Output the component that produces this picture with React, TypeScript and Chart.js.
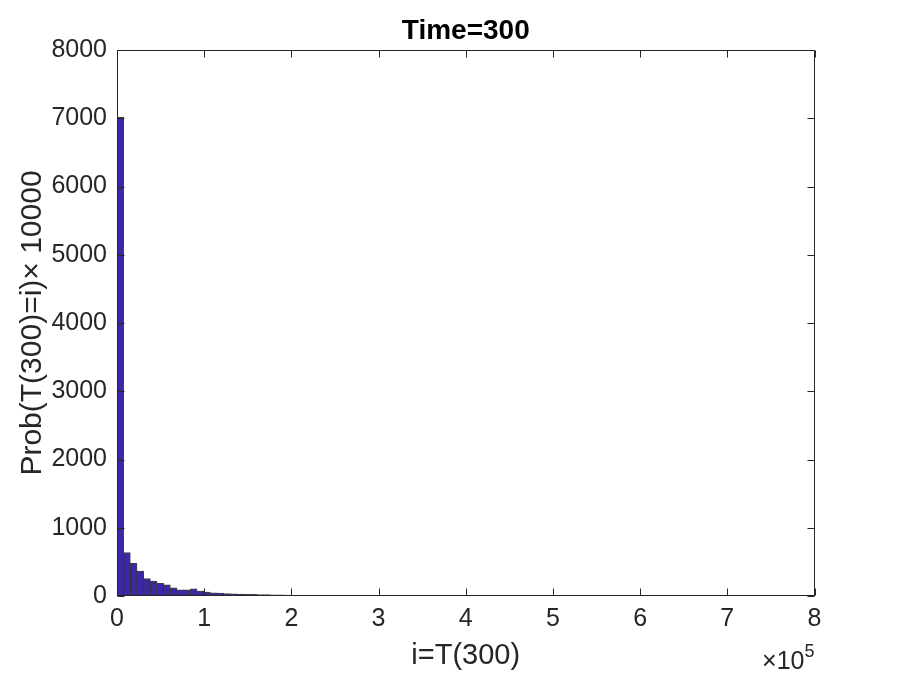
import React, { useEffect, useRef } from 'react';
import { Chart, registerables } from 'chart.js';

Chart.register(...registerables);

// ---- data ----
const BIN_WIDTH = 7650;
const binCounts = [
  7015, 635, 480, 366, 254, 220, 186, 162, 120, 90,
  92, 105, 72, 58, 45, 42, 34, 32, 28, 26,
  24, 22, 20, 18, 16, 13, 9, 7, 6, 5,
  8, 4, 5, 4, 5, 2, 2, 1, 1, 0,
  0, 1, 0, 0, 0, 0, 0, 1, 3, 0,
  0, 0, 0, 0, 0, 3,
];
const xTickValues = [0, 100000, 200000, 300000, 400000, 500000, 600000, 700000, 800000];
const yTickValues = [0, 1000, 2000, 3000, 4000, 5000, 6000, 7000, 8000];
const titleText = 'Time=300';
const xLabel = 'i=T(300)';
const yLabel = 'Prob(T(300)=i)\u00d7 10000';
const expBase = '\u00d710';
const expPower = '5';

const FONT = "'Liberation Sans', Arial, Helvetica, sans-serif";
const AXIS_COLOR = '#262626';
const BAR_COLOR = '#3E26A8';

const boxPlugin = {
  id: 'matlabBox',
  afterDatasetsDraw(chart: any) {
    const { ctx, chartArea, scales } = chart;
    const L = Math.round(chartArea.left) + 0.5;
    const R = Math.round(chartArea.right) - 0.5;
    const T = Math.round(chartArea.top) + 0.5;
    const B = Math.round(chartArea.bottom) - 0.5;
    const tl = 7;
    ctx.save();
    ctx.strokeStyle = AXIS_COLOR;
    ctx.lineWidth = 1;
    ctx.strokeRect(L, T, R - L, B - T);
    ctx.beginPath();
    scales.x.ticks.forEach((t: any) => {
      const px = Math.round(scales.x.getPixelForValue(t.value)) + 0.5;
      ctx.moveTo(px, B);
      ctx.lineTo(px, B - tl);
      ctx.moveTo(px, T);
      ctx.lineTo(px, T + tl);
    });
    scales.y.ticks.forEach((t: any) => {
      const py = Math.round(scales.y.getPixelForValue(t.value)) + 0.5;
      ctx.moveTo(L, py);
      ctx.lineTo(L + tl, py);
      ctx.moveTo(R, py);
      ctx.lineTo(R - tl, py);
    });
    ctx.stroke();
    ctx.restore();
  },
  afterDraw(chart: any) {
    const { ctx, chartArea } = chart;
    ctx.save();
    ctx.fillStyle = AXIS_COLOR;
    ctx.textBaseline = 'alphabetic';
    ctx.textAlign = 'left';
    ctx.font = `25px ${FONT}`;
    const baseW = ctx.measureText(expBase).width;
    ctx.font = `18px ${FONT}`;
    const powW = ctx.measureText(expPower).width;
    const xEnd = chartArea.right;
    const x0 = xEnd - baseW - powW;
    ctx.font = `25px ${FONT}`;
    ctx.fillText(expBase, x0, chartArea.bottom + 73);
    ctx.font = `18px ${FONT}`;
    ctx.fillText(expPower, x0 + baseW, chartArea.bottom + 61);
    ctx.restore();
  },
};

export default function App() {
  const canvasRef = useRef<HTMLCanvasElement | null>(null);

  useEffect(() => {
    if (!canvasRef.current) return;
    const data = binCounts.map((v, i) => ({ x: (i + 0.5) * BIN_WIDTH, y: v }));
    const chart = new Chart(canvasRef.current, {
      type: 'bar',
      data: {
        datasets: [
          {
            data: data as any,
            backgroundColor: BAR_COLOR,
            borderColor: 'rgba(30,30,30,0.85)',
            borderWidth: 1,
            barPercentage: 1,
            categoryPercentage: 1,
          },
        ],
      },
      plugins: [boxPlugin],
      options: {
        responsive: false,
        animation: false,
        events: [],
        layout: { padding: { left: 0, right: 85.5, top: 0, bottom: 0 } },
        plugins: {
          legend: { display: false },
          tooltip: { enabled: false },
          title: {
            display: true,
            text: titleText,
            fullSize: false,
            color: '#000000',
            font: { family: FONT, size: 28, weight: 'bold' },
            padding: { top: 14, bottom: 2.4 },
          },
        },
        scales: {
          x: {
            type: 'linear',
            offset: false,
            min: 0,
            max: 800000,
            grid: { display: false, drawTicks: false, offset: false },
            border: { display: false },
            afterBuildTicks: (s: any) => {
              s.ticks = xTickValues.map((v) => ({ value: v }));
            },
            afterFit: (s: any) => {
              s.height = 79;
            },
            ticks: {
              color: AXIS_COLOR,
              padding: 8,
              maxRotation: 0,
              autoSkip: false,
              font: { family: FONT, size: 25 },
              callback: (v: any) => String(Number(v) / 100000),
            },
            title: {
              display: true,
              text: xLabel,
              color: AXIS_COLOR,
              font: { family: FONT, size: 29 },
              padding: { top: 0, bottom: 2 },
            },
          },
          y: {
            type: 'linear',
            min: 0,
            max: 8000,
            grid: { display: false, drawTicks: false },
            border: { display: false },
            afterBuildTicks: (s: any) => {
              s.ticks = yTickValues.map((v) => ({ value: v }));
            },
            afterFit: (s: any) => {
              s.width = 117;
            },
            ticks: {
              color: AXIS_COLOR,
              padding: 10,
              autoSkip: false,
              font: { family: FONT, size: 25 },
              callback: (v: any) => String(v),
            },
            title: {
              display: true,
              text: yLabel,
              color: AXIS_COLOR,
              font: { family: FONT, size: 30 },
              padding: { top: 15, bottom: 0 },
            },
          },
        },
      },
    });
    return () => chart.destroy();
  }, []);

  return (
    <div style={{ position: 'fixed', left: 0, top: 0, width: 900, height: 675, background: '#ffffff' }}>
      <canvas ref={canvasRef} width={900} height={675} />
    </div>
  );
}
